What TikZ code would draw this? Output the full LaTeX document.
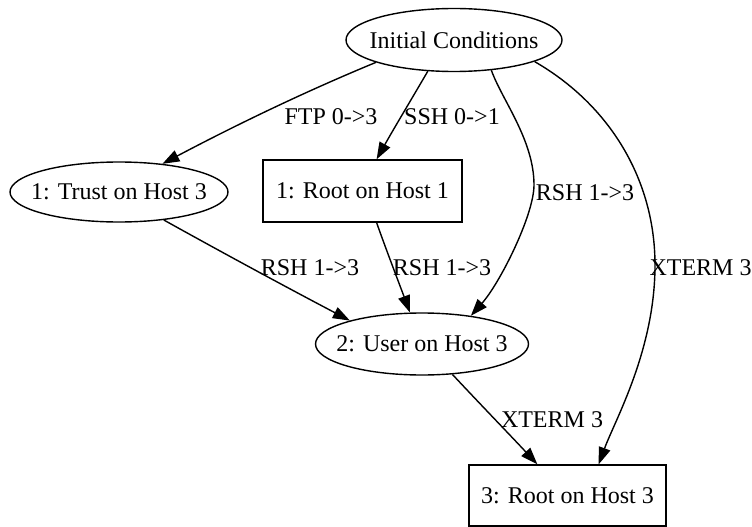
\documentclass[tikz,border=0pt]{standalone}
\usepackage{fontspec}
\setmainfont{Liberation Serif}
\usetikzlibrary{shapes.geometric,arrows.meta}
\newcommand{\zwtext}[1]{\makebox[0pt]{#1}}
\begin{document}
\begin{tikzpicture}[x=1pt,y=-1pt,
  txt/.style={font=\fontsize{24}{28}\selectfont},
  lbl/.style={txt, inner sep=0pt},
  ell/.style={txt, draw, ellipse, line width=1.4pt, inner sep=0pt},
  box/.style={txt, draw, rectangle, line width=1.4pt, inner sep=0pt},
  edge/.style={line width=1.4pt, -{Triangle[length=17pt,width=12pt]}}]
\useasboundingbox (0,0) rectangle (752,527);

% nodes
\node[ell, minimum width=216pt, minimum height=63pt] (ic) at (454,40) {\zwtext{Initial Conditions}};
\node[ell, minimum width=218pt, minimum height=60pt] (trust) at (119,192) {\zwtext{1: Trust on Host 3}};
\node[box, minimum width=199pt, minimum height=62pt] (root1) at (362.5,191) {1: Root on Host 1};
\node[ell, minimum width=213pt, minimum height=62pt] (user) at (422,344) {\zwtext{2: User on Host 3}};
\node[box, minimum width=197pt, minimum height=61pt] (root3) at (567.5,495.5) {3: Root on Host 3};

% edges
\draw[edge] (ic.-164.6) .. controls (304,92) and (234,126) .. (trust.33.7);
\draw[edge] (ic.-130) .. controls (411,100) and (393,130) .. (root1.66.5);
\draw[edge] (ic.-39.6) .. controls (502,100) and (534,140) .. (534,185)
  .. controls (534,215) and (500,283) .. (user.30.1);
\draw[edge] (ic.-15.6) .. controls (610,105) and (655,180) .. (655,265)
  .. controls (655,350) and (615,420) .. (root3.45);
\draw[edge] (trust.-32.8) .. controls (225,254) and (286,287) .. (user.162.3);
\draw[edge] (root1.-66.5) .. controls (387,252) and (399,283) .. (user.111.2);
\draw[edge] (user.-45) .. controls (481,405) and (510,435) .. (root3.134);

% labels
\node[lbl] (lftp) at (331,117) {FTP 0->3};
\node[lbl] (lssh) at (452,117) {SSH 0->1};
\node[lbl] (lrshr) at (585,193) {RSH 1->3};
\node[lbl] (lxtr) at (700.5,268) {XTERM 3};
\node[lbl] (lrshl) at (310,268) {RSH 1->3};
\node[lbl] (lrshm) at (442,268) {RSH 1->3};
\node[lbl] (lxtl) at (552,420) {XTERM 3};
\end{tikzpicture}
\end{document}
